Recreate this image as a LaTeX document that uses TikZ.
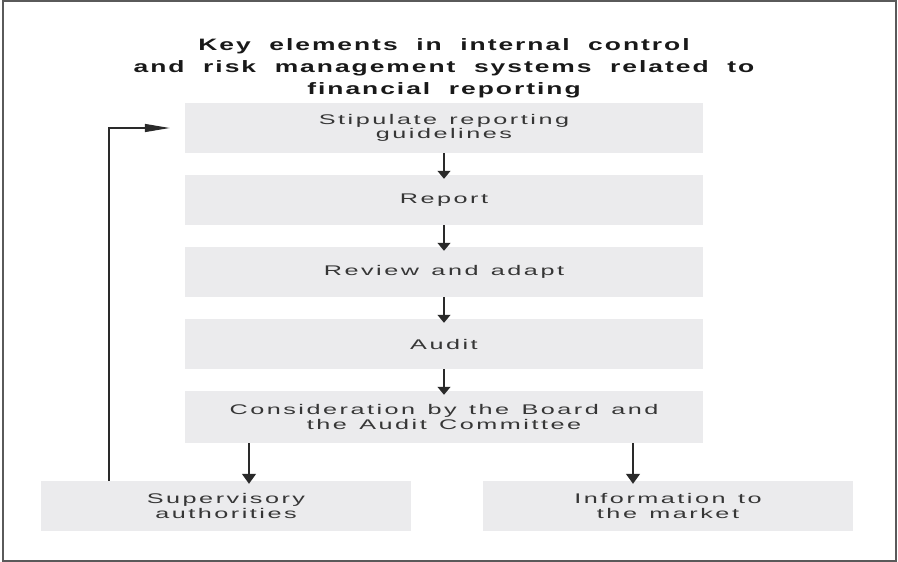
\documentclass[tikz,border=0pt]{standalone}
\usepackage{fontspec}
\setmainfont{Liberation Sans}[FakeStretch=1.8, LetterSpace=18, WordSpace=1.3]
\newfontfamily\titlefont{Liberation Sans}[FakeStretch=1.6, LetterSpace=12, WordSpace=2.0]
\usepackage{tikz}
\usetikzlibrary{arrows.meta,positioning}

\definecolor{boxgray}{HTML}{EBEBED}
\definecolor{framegray}{HTML}{5A5A5A}
\definecolor{textgray}{HTML}{363636}
\definecolor{arrowgray}{HTML}{2A2A2A}

\begin{document}
\begin{tikzpicture}[x=1pt, y=-1pt,
        stage/.style={rectangle, fill=boxgray, minimum width=518pt, minimum height=50pt, inner sep=0pt, text centered, align=center, text=textgray, font=\fontsize{14}{14.5}\selectfont},
        outbox/.style={stage, minimum width=370pt},
        flow/.style={-{Triangle[width=13pt, length=8pt]}, line width=1.3pt, arrowgray},
        bigflow/.style={-{Triangle[width=14pt, length=10pt]}, line width=1.3pt, arrowgray},
        feedback/.style={-{Triangle[width=8pt, length=25pt]}, line width=1.2pt, arrowgray},
    ]
        \useasboundingbox (0,0) rectangle (898,562);
        \draw[framegray, line width=1.5pt] (3,1) rectangle (896,561);

        % Title
        \node[font=\titlefont\fontsize{16.5}{22}\selectfont\bfseries, text=black!90, align=center] (title) at (444, 68) {Key elements in internal control\\and risk management systems related to\\financial reporting};

        % Main chain
        \node[stage] (guide) at (444, 128) {Stipulate reporting\\guidelines};
        \node[stage] (report) at (444, 200) {Report};
        \node[stage] (review) at (444, 272) {Review and adapt};
        \node[stage] (audit) at (444, 344) {Audit};
        \node[stage, minimum height=52pt] (board) at (444, 417) {Consideration by the Board and\\the Audit Committee};

        % Outputs
        \node[outbox] (super) at (226, 506) {Supervisory\\authorities};
        \node[outbox] (market) at (668, 506) {Information to\\the market};

        \draw[flow] (guide) -- ([yshift=-4pt]report.north);
        \draw[flow] (report) -- ([yshift=-4pt]review.north);
        \draw[flow] (review) -- ([yshift=-4pt]audit.north);
        \draw[flow] (audit) -- ([yshift=-4pt]board.north);

        \coordinate (left) at (249, 0);
        \coordinate (right) at (633, 0);
        \coordinate (loop) at (109, 0);
        \draw[bigflow] (board.south -| left) -- ([yshift=-3pt]super.north -| left);
        \draw[bigflow] (board.south -| right) -- ([yshift=-3pt]market.north -| right);

        % Feedback loop
        \draw[feedback] (super.north -| loop) |- ([xshift=-15pt]guide.west);
    \end{tikzpicture}
\end{document}
